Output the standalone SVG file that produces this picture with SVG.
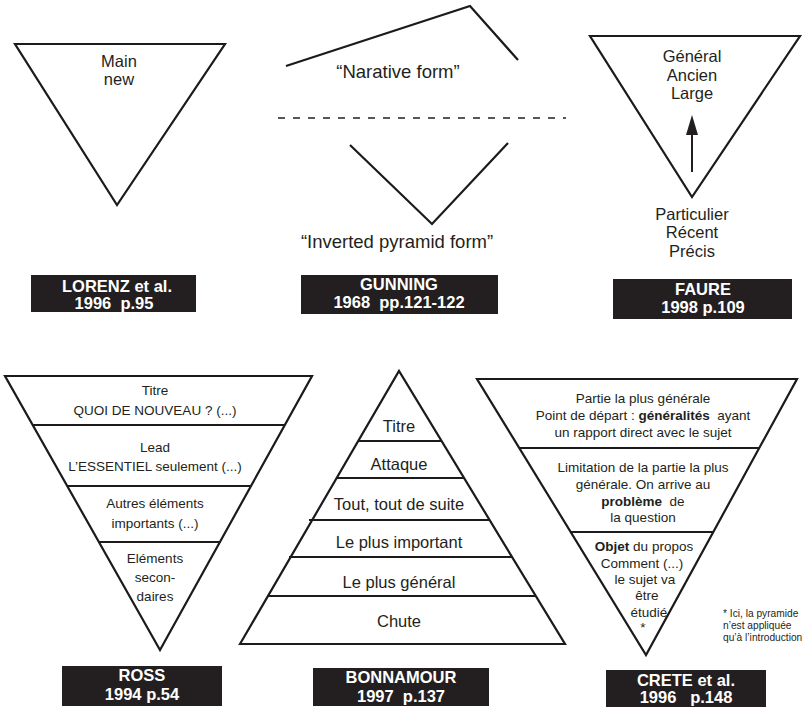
<svg xmlns="http://www.w3.org/2000/svg" width="803" height="707" viewBox="0 0 803 707">
<defs>
<style>
.shape{fill:none;stroke:#1c1a1a;stroke-width:2.2;stroke-linejoin:miter}
.div{stroke:#1c1a1a;stroke-width:1.8}
.t{font-family:"Liberation Sans",Arial,sans-serif;fill:#231f20;text-anchor:middle}
.t16{font-size:16.5px}
.t18{font-size:18.5px}
.t13{font-size:13.5px}
.t11{font-size:10.2px;text-anchor:start}
.box{fill:#231f20}
.lbl{font-family:"Liberation Sans",Arial,sans-serif;font-weight:bold;font-size:16.5px;fill:#ffffff;text-anchor:middle}
</style>
</defs>
<rect width="803" height="707" fill="#ffffff"/>

<g id="lorenz">
<polygon class="shape" points="15,44 225,44 117,205"/>
<text class="t t16" x="119" y="67">Main</text>
<text class="t t16" x="119" y="85">new</text>
<rect class="box" x="31" y="275" width="165" height="37"/>
<text class="lbl" x="117" y="292">LORENZ et al.</text>
<text class="lbl" x="114" y="309" xml:space="preserve">1996  p.95</text>
</g>

<g id="gunning">
<polyline class="shape" points="286,66 470,6 518,60"/>
<text class="t t18" x="398" y="78">“Narative form”</text>
<line x1="278" y1="118" x2="566" y2="118" stroke="#231f20" stroke-width="1.6" stroke-dasharray="7 8"/>
<polyline class="shape" points="350,145 432,224 508,143"/>
<text class="t t18" x="397" y="248">“Inverted pyramid form”</text>
<rect class="box" x="301" y="275" width="197" height="39"/>
<text class="lbl" x="399" y="290">GUNNING</text>
<text class="lbl" x="399" y="308" xml:space="preserve">1968  pp.121-122</text>
</g>

<g id="faure">
<polygon class="shape" points="590,36 800,36 692,197"/>
<text class="t t16" x="692" y="62">Général</text>
<text class="t t16" x="692" y="81">Ancien</text>
<text class="t t16" x="692" y="99">Large</text>
<line x1="692" y1="172" x2="692" y2="132" stroke="#231f20" stroke-width="2"/>
<polygon points="692,115 686,135 698,135" fill="#231f20"/>
<text class="t t16" x="692" y="220">Particulier</text>
<text class="t t16" x="692" y="238">Récent</text>
<text class="t t16" x="692" y="257">Précis</text>
<rect class="box" x="613" y="279" width="179" height="40"/>
<text class="lbl" x="703" y="295">FAURE</text>
<text class="lbl" x="703" y="313">1998 p.109</text>
</g>

<g id="ross">
<polygon class="shape" points="5,376 312,376 160,650"/>
<line class="div" x1="32.7" y1="425" x2="284.8" y2="425"/>
<line class="div" x1="67.2" y1="486" x2="251" y2="486"/>
<line class="div" x1="98.9" y1="542" x2="219.9" y2="542"/>
<text class="t t13" x="155" y="395">Titre</text>
<text class="t t13" x="155" y="415">QUOI DE NOUVEAU ? (...)</text>
<text class="t t13" x="155" y="452">Lead</text>
<text class="t t13" x="155" y="471">L’ESSENTIEL seulement (...)</text>
<text class="t t13" x="155" y="508">Autres éléments</text>
<text class="t t13" x="155" y="528">importants (...)</text>
<text class="t t13" x="155" y="563">Eléments</text>
<text class="t t13" x="155" y="582">secon-</text>
<text class="t t13" x="155" y="601">daires</text>
<rect class="box" x="62" y="666" width="160" height="40"/>
<text class="lbl" x="142" y="681">ROSS</text>
<text class="lbl" x="142" y="700">1994 p.54</text>
</g>

<g id="bonnamour">
<polygon class="shape" points="240,644 399,371 565,644"/>
<line class="div" x1="358" y1="441" x2="441.6" y2="441"/>
<line class="div" x1="336.5" y1="478" x2="464.1" y2="478"/>
<line class="div" x1="309" y1="520" x2="490" y2="520"/>
<line class="div" x1="289" y1="557" x2="512.5" y2="557"/>
<line class="div" x1="267.5" y1="596" x2="536" y2="596"/>
<text class="t t16" x="399" y="432">Titre</text>
<text class="t t16" x="399" y="470">Attaque</text>
<text class="t t16" x="399" y="510">Tout, tout de suite</text>
<text class="t t16" x="399" y="548">Le plus important</text>
<text class="t t16" x="399" y="588">Le plus général</text>
<text class="t t16" x="399" y="627">Chute</text>
<rect class="box" x="313" y="668" width="176" height="38"/>
<text class="lbl" x="401" y="683">BONNAMOUR</text>
<text class="lbl" x="401" y="702" xml:space="preserve">1997  p.137</text>
</g>

<g id="crete">
<polygon class="shape" points="477,379 797,379 646,655"/>
<line class="div" x1="519.3" y1="448" x2="759.3" y2="448"/>
<line class="div" x1="570.7" y1="532" x2="713.3" y2="532"/>
<text class="t t13" x="643" y="403">Partie la plus générale</text>
<text class="t t13" x="643" y="420" xml:space="preserve">Point de départ : <tspan font-weight="bold">généralités</tspan>  ayant</text>
<text class="t t13" x="643" y="437">un rapport direct avec le sujet</text>
<text class="t t13" x="643" y="472">Limitation de la partie la plus</text>
<text class="t t13" x="643" y="489">générale. On arrive au</text>
<text class="t t13" x="643" y="506" xml:space="preserve"><tspan font-weight="bold">problème</tspan>  de</text>
<text class="t t13" x="643" y="522">la question</text>
<text class="t t13" x="644" y="551"><tspan font-weight="bold">Objet</tspan> du propos</text>
<text class="t t13" x="642" y="568">Comment (...)</text>
<text class="t t13" x="645" y="584">le sujet va</text>
<text class="t t13" x="647" y="600">être</text>
<text class="t t13" x="649" y="617">étudié</text>
<text class="t t13" x="643" y="632">*</text>
<text class="t t11" x="723" y="617">* Ici, la pyramide</text>
<text class="t t11" x="723" y="629">n’est appliquée</text>
<text class="t t11" x="723" y="641">qu’à l’introduction</text>
<rect class="box" x="606" y="670" width="160" height="37"/>
<text class="lbl" x="686" y="686">CRETE et al.</text>
<text class="lbl" x="686" y="703" xml:space="preserve">1996   p.148</text>
</g>
</svg>
